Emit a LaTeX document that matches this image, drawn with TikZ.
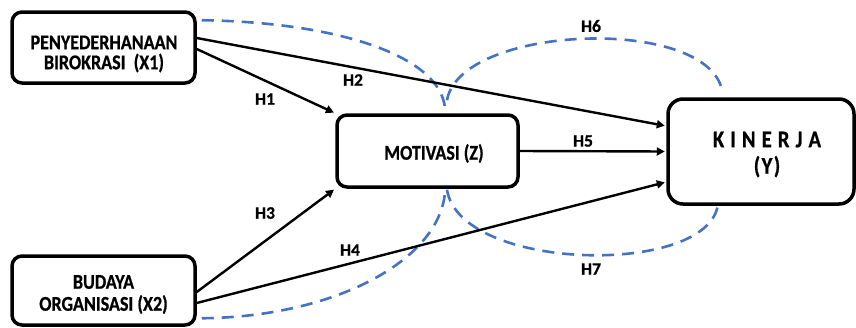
\documentclass[tikz,border=0pt]{standalone}
\usepackage{fontspec}
\usepackage{graphicx}
\setmainfont{Carlito}
\newfontfamily\boxfont[FakeBold=0.8]{Carlito Bold}
\newfontfamily\kinfont[FakeBold=0.8,LetterSpace=7]{Carlito Bold}
\usetikzlibrary{arrows.meta,calc}
\definecolor{dashblue}{HTML}{4472C4}
\newcommand{\sqz}[1]{\scalebox{0.86}[1]{#1}}
\tikzset{
  varbox/.style={draw=black, line width=3.5pt, rounded corners=10pt, inner sep=0pt},
  boxtext/.style={align=center, inner sep=0pt, font=\boxfont\fontsize{21}{20}\selectfont},
  arr/.style={line width=2.4pt, -{Triangle[length=8pt,width=8pt]}, shorten >=1.5pt},
  dashcurve/.style={draw=dashblue, line width=2.6pt, dash pattern=on 12pt off 8pt},
  hlabel/.style={font=\boxfont\fontsize{17.5}{20}\selectfont, inner sep=0pt}
}
\begin{document}
\begin{tikzpicture}[x=1pt,y=-1pt]
\useasboundingbox (0,0) rectangle (856,327);
% boxes
\node[varbox, minimum width=183pt, minimum height=71pt] (x1) at (103.5,47.5) {};
\node[varbox, minimum width=183pt, minimum height=69pt] (x2) at (103.5,290.5) {};
\node[varbox, minimum width=181pt, minimum height=72pt] (z) at (427.5,151) {};
\node[varbox, rounded corners=15pt, minimum width=186pt, minimum height=105pt] (y) at (761,151.5) {};
% box texts
\node[boxtext] (x1t) at ($(x1)+(0.5,6.5)$) {\sqz{PENYEDERHANAAN}\\\sqz{BIROKRASI\ \ (X1)}};
\node[boxtext, font=\boxfont\fontsize{21}{22}\selectfont] (x2t) at ($(x2)+(0,4)$) {\sqz{BUDAYA}\\\sqz{ORGANISASI (X2)}};
\node[boxtext] (zt) at ($(z)+(6.5,2.5)$) {\sqz{MOTIVASI (Z)}};
\node[boxtext, font=\kinfont\fontsize{24}{26.5}\selectfont] (yt) at ($(y)+(6,3)$) {\sqz{K I N E R J A}\\\sqz{(Y)}};

% dashed curves
\draw[dashcurve] ($(x1.north east)+(5,10)$) .. controls (335,22) and (440,55) .. ($(z.north)+(17.5,-5)$);
\draw[dashcurve] ($(z.north)+(19.5,-13)$) .. controls (460,25) and (705,15) .. ($(y.north)+(-39,-7.5)$);
\draw[dashcurve] ($(z.south)+(19.5,1)$) .. controls (460,272) and (710,277) .. ($(y.south)+(-43,-2)$);
\draw[dashcurve] ($(x2.south east)+(5,-8.5)$) .. controls (335,317) and (440,260) .. ($(z.south)+(17.5,3)$);

% arrows
\draw[arr] ($(x1.east)+(0,1.5)$) -- (z.north west);
\draw[arr] ($(x1.east)+(0,-9.5)$) -- ($(y.west)+(0,-25.5)$);
\draw[arr] (z.east) -- (y.west);
\draw[arr] ($(x2.east)+(0,1.5)$) -- (z.south west);
\draw[arr] ($(x2.east)+(0,12.5)$) -- ($(y.west)+(0,30.5)$);

% labels
\node[hlabel] (h1) at (265,99) {H1};
\node[hlabel] (h2) at (353,80) {H2};
\node[hlabel] (h3) at (265,213) {H3};
\node[hlabel] (h4) at (350,250) {H4};
\node[hlabel] (h5) at (583,141) {H5};
\node[hlabel] (h6) at (591,26) {H6};
\node[hlabel] (h7) at (591,269) {H7};
\end{tikzpicture}
\end{document}
